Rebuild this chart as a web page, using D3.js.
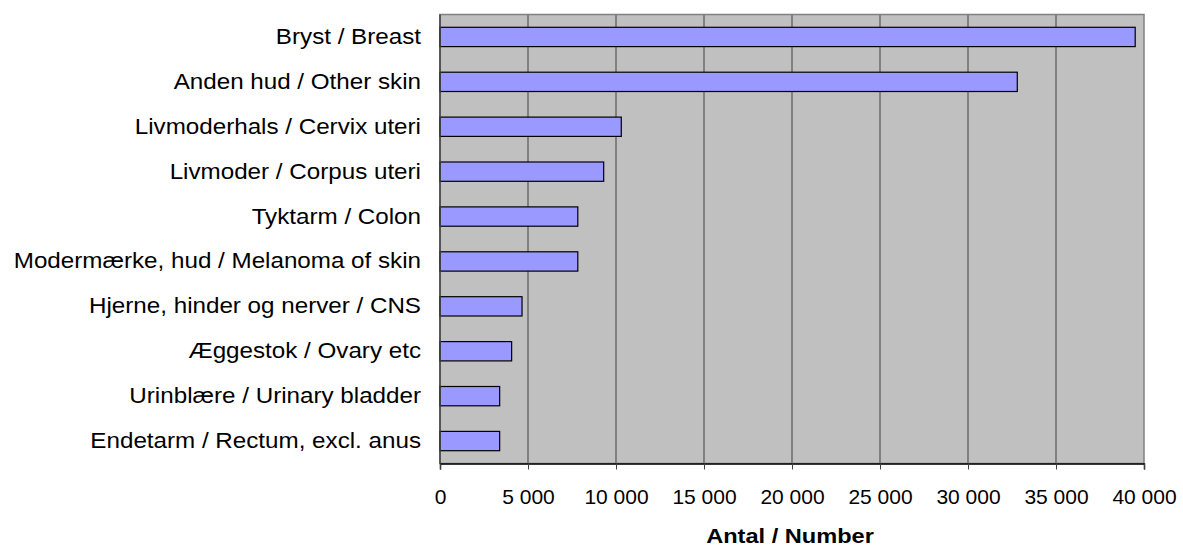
<!DOCTYPE html>
<html><head><meta charset="utf-8">
<script src="https://cdn.jsdelivr.net/npm/d3@7"></script>
<style>body{margin:0;background:#fff;} text{font-family:"Liberation Sans",Arial,sans-serif;fill:#000;}</style>
</head><body>
<svg id="c" width="1183" height="549"></svg>
<script>
const categories = ["Bryst / Breast","Anden hud / Other skin ","Livmoderhals / Cervix uteri","Livmoder / Corpus uteri","Tyktarm / Colon","Modermærke, hud / Melanoma of skin","Hjerne, hinder og nerver / CNS","Æggestok / Ovary etc","Urinblære / Urinary bladder","Endetarm / Rectum, excl. anus"];
const values = [39500,32800,10300,9300,7830,7830,4660,4070,3390,3390];
const tickValues = [0,5000,10000,15000,20000,25000,30000,35000,40000];
const tickLabels = ["0","5 000","10 000","15 000","20 000","25 000","30 000","35 000","40 000"];
const axisTitle = "Antal / Number";

const svg = d3.select("#c");
const L=440,R=1144,T=14.5,B=463.5;
const SX=1.1;
const x = d3.scaleLinear().domain([0,40000]).range([L,R]);
const y = d3.scaleBand().domain(categories).range([T,B]).paddingInner(0.57).paddingOuter(0.285);

svg.append("rect").attr("x",L).attr("y",T).attr("width",R-L).attr("height",B-T).attr("fill","#c0c0c0");
svg.append("g").selectAll("line").data(tickValues.slice(1,-1)).join("line")
  .attr("x1",d=>x(d)).attr("x2",d=>x(d)).attr("y1",T).attr("y2",B).attr("stroke","#404040").attr("stroke-width",1);
svg.append("rect").attr("x",L).attr("y",T).attr("width",R-L).attr("height",B-T).attr("fill","none").attr("stroke","#808080").attr("stroke-width",1.5);

svg.append("g").selectAll("rect").data(values).join("rect")
  .attr("x",x(0)).attr("y",(d,i)=>y(categories[i])).attr("width",d=>x(d)-x(0)).attr("height",y.bandwidth())
  .attr("fill","#9999ff").attr("stroke","#000").attr("stroke-width",1.2);

svg.append("line").attr("x1",L).attr("x2",L).attr("y1",T).attr("y2",B).attr("stroke","#404040").attr("stroke-width",1.5);

const xa = d3.axisBottom(x).tickValues(tickValues).tickFormat((d,i)=>tickLabels[i]).tickSize(6).tickPadding(19.6);
const gx = svg.append("g").attr("transform",`translate(0,${B})`).call(xa);
gx.select(".domain").attr("stroke","#000").attr("stroke-width",1.5);
gx.selectAll(".tick line").attr("stroke","#404040");
gx.selectAll("text").attr("font-size",21).attr("font-family","Liberation Sans, Arial, sans-serif");

const ya = d3.axisLeft(y).tickSize(0).tickPadding(0);
const gy = svg.append("g").attr("transform",`translate(${L},0)`).call(ya);
gy.select(".domain").remove();
gy.selectAll("text").attr("font-size",22).attr("font-family","Liberation Sans, Arial, sans-serif")
  .attr("x",-19/SX).attr("transform",`scale(${SX},1)`);

svg.append("text").attr("transform",`translate(${(L+R)/2-2},543) scale(1.18,1)`).attr("text-anchor","middle")
  .attr("font-weight","bold").attr("font-size",20).text(axisTitle);
</script></body></html>
